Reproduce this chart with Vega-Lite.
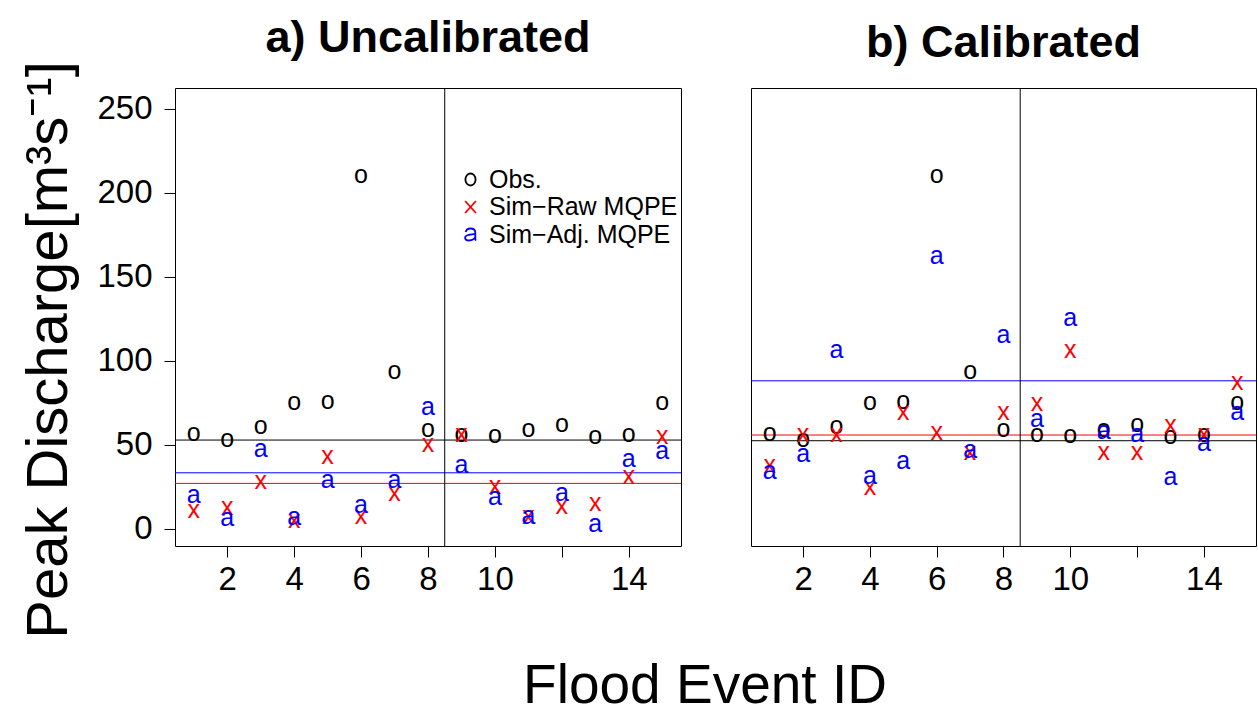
{
  "$schema": "https://vega.github.io/schema/vega-lite/v6.json",
  "background": "white",
  "padding": {"left": 19, "top": 15, "right": 0, "bottom": 0},
  "autosize": {"type": "pad"},
  "bounds": "flush",
  "spacing": 70,
  "config": {
    "font": "Liberation Sans",
    "view": {"stroke": "black", "strokeWidth": 1},
    "axis": {"grid": false, "domain": false, "tickColor": "black", "tickSize": 11, "tickWidth": 1, "labelColor": "black", "labelFont": "Liberation Sans", "labelFontSize": 33, "titleColor": "black", "titleFont": "Liberation Sans", "titleFontWeight": "normal"},
    "title": {"fontSize": 45, "fontWeight": "bold", "font": "Liberation Sans", "color": "black", "anchor": "middle", "baseline": "alphabetic", "frame": "group"}
  },
  "datasets": {
    "peaks": [
      {"panel": "a", "event": 1, "obs": 56.0, "raw": 10.1, "adj": 19.0},
      {"panel": "a", "event": 2, "obs": 52.8, "raw": 12.1, "adj": 5.2},
      {"panel": "a", "event": 3, "obs": 60.1, "raw": 27.4, "adj": 46.4},
      {"panel": "a", "event": 4, "obs": 74.4, "raw": 4.2, "adj": 6.2},
      {"panel": "a", "event": 5, "obs": 75.0, "raw": 42.5, "adj": 28.0},
      {"panel": "a", "event": 6, "obs": 210.0, "raw": 6.8, "adj": 13.1},
      {"panel": "a", "event": 7, "obs": 92.8, "raw": 20.5, "adj": 28.0},
      {"panel": "a", "event": 8, "obs": 58.2, "raw": 49.4, "adj": 71.7},
      {"panel": "a", "event": 9, "obs": 55.8, "raw": 55.8, "adj": 36.9},
      {"panel": "a", "event": 10, "obs": 55.2, "raw": 24.6, "adj": 18.1},
      {"panel": "a", "event": 11, "obs": 58.5, "raw": 6.8, "adj": 6.8},
      {"panel": "a", "event": 12, "obs": 61.3, "raw": 12.7, "adj": 20.5},
      {"panel": "a", "event": 13, "obs": 54.1, "raw": 14.7, "adj": 2.2},
      {"panel": "a", "event": 14, "obs": 55.8, "raw": 30.6, "adj": 40.9},
      {"panel": "a", "event": 15, "obs": 74.6, "raw": 54.4, "adj": 45.5},
      {"panel": "b", "event": 1, "obs": 56.0, "raw": 36.9, "adj": 33.3},
      {"panel": "b", "event": 2, "obs": 52.8, "raw": 55.8, "adj": 43.5},
      {"panel": "b", "event": 3, "obs": 60.1, "raw": 55.4, "adj": 105.4},
      {"panel": "b", "event": 4, "obs": 74.4, "raw": 24.0, "adj": 30.6},
      {"panel": "b", "event": 5, "obs": 75.0, "raw": 68.7, "adj": 39.3},
      {"panel": "b", "event": 6, "obs": 210.0, "raw": 56.8, "adj": 161.3},
      {"panel": "b", "event": 7, "obs": 92.8, "raw": 44.9, "adj": 46.2},
      {"panel": "b", "event": 8, "obs": 58.2, "raw": 68.7, "adj": 114.3},
      {"panel": "b", "event": 9, "obs": 55.8, "raw": 74.2, "adj": 64.3},
      {"panel": "b", "event": 10, "obs": 55.2, "raw": 105.8, "adj": 124.8},
      {"panel": "b", "event": 11, "obs": 58.5, "raw": 44.9, "adj": 57.2},
      {"panel": "b", "event": 12, "obs": 61.3, "raw": 44.9, "adj": 55.8},
      {"panel": "b", "event": 13, "obs": 54.1, "raw": 60.7, "adj": 30.0},
      {"panel": "b", "event": 14, "obs": 55.8, "raw": 55.8, "adj": 50.2},
      {"panel": "b", "event": 15, "obs": 74.6, "raw": 86.7, "adj": 68.7}
    ],
    "means": [
      {"panel": "a", "series": "obs", "value": 52.8},
      {"panel": "a", "series": "raw", "value": 27.0},
      {"panel": "a", "series": "adj", "value": 33.3},
      {"panel": "b", "series": "obs", "value": 52.4},
      {"panel": "b", "series": "raw", "value": 55.8},
      {"panel": "b", "series": "adj", "value": 88.1}
    ],
    "split": [{"event": 8.5}]
  },
  "resolve": {"legend": {"color": "independent"}},
  "hconcat": [
    {
      "width": 506,
      "height": 458,
      "title": {"text": "a) Uncalibrated", "offset": 0},
      "layer": [
        {
          "data": {"name": "means"},
          "transform": [{"filter": "datum.panel === 'a'"}],
          "mark": {"type": "rule", "strokeWidth": 1},
          "encoding": {
            "y": {"field": "value", "type": "quantitative", "scale": {"domain": [-10.3, 262.5], "nice": false, "zero": false},
              "axis": {"values": [0, 50, 100, 150, 200, 250], "labelPadding": 12, "labelOverlap": false, "labelFlush": false, "title": "Peak Discharge[m³s⁻¹]", "titleFontSize": 58, "titleX": -109, "titleY": 261.5, "titleBaseline": "alphabetic", "titleAlign": "center", "titleAngle": -90}},
            "stroke": {"field": "series", "type": "nominal", "scale": {"domain": ["obs", "raw", "adj"], "range": ["black", "#FF0000", "#0000FF"]}, "legend": null}
          }
        },
        {
          "data": {"name": "split"},
          "mark": {"type": "rule", "color": "black", "strokeWidth": 1},
          "encoding": {
            "x": {"field": "event", "type": "quantitative", "scale": {"domain": [0.44, 15.56], "nice": false, "zero": false},
              "axis": {"values": [2, 4, 6, 8, 10, 12, 14], "labelExpr": "datum.value === 12 ? '' : datum.label", "labelOverlap": false, "labelFlush": false, "labelPadding": 6, "title": "Flood Event ID", "titleFontSize": 55, "titleX": 529.5, "titleY": 156, "titleBaseline": "alphabetic", "titleAlign": "center"}}
          }
        },
        {
          "data": {"name": "peaks"},
          "transform": [{"filter": "datum.panel === 'a'"}, {"fold": ["obs", "raw", "adj"], "as": ["series", "value"]}, {"filter": "datum.series === 'obs'"}],
          "mark": {"type": "text", "text": "o", "fontSize": 25, "font": "Liberation Sans", "baseline": "alphabetic", "align": "center", "dy": 6.5},
          "encoding": {
            "x": {"field": "event", "type": "quantitative", "scale": {"domain": [0.44, 15.56], "nice": false, "zero": false},
              "axis": {"values": [2, 4, 6, 8, 10, 12, 14], "labelExpr": "datum.value === 12 ? '' : datum.label", "labelOverlap": false, "labelFlush": false, "labelPadding": 6, "title": "Flood Event ID", "titleFontSize": 55, "titleX": 529.5, "titleY": 156, "titleBaseline": "alphabetic", "titleAlign": "center"}},
            "y": {"field": "value", "type": "quantitative", "scale": {"domain": [-10.3, 262.5], "nice": false, "zero": false},
              "axis": {"values": [0, 50, 100, 150, 200, 250], "labelPadding": 12, "labelOverlap": false, "labelFlush": false, "title": "Peak Discharge[m³s⁻¹]", "titleFontSize": 58, "titleX": -109, "titleY": 261.5, "titleBaseline": "alphabetic", "titleAlign": "center", "titleAngle": -90}},
            "color": {"field": "series", "type": "nominal", "scale": {"domain": ["obs", "raw", "adj"], "range": ["black", "#FF0000", "#0000FF"]},
              "legend": {"title": null, "orient": "none", "legendX": 283, "legendY": 79, "padding": 0, "labelFontSize": 25, "labelFont": "Liberation Sans", "labelColor": "black", "labelOffset": 6, "labelLimit": 400, "rowPadding": 1.5, "symbolSize": 144, "symbolStrokeWidth": 1.8, "symbolFillColor": "transparent",
                "labelExpr": "datum.value === 'obs' ? 'Obs.' : datum.value === 'raw' ? 'Sim−Raw MQPE' : 'Sim−Adj. MQPE'",
                "encode": {"symbols": {"update": {
                  "shape": {"signal": "datum.value === 'obs' ? 'M-0.85,0A0.85,1 0 1,0 0.85,0A0.85,1 0 1,0 -0.85,0Z' : datum.value === 'raw' ? 'M-0.9,-1L0.9,1M0.9,-1L-0.9,1' : 'M-0.8,-0.4C-0.7,-0.9 -0.3,-1 0,-1C0.6,-1 0.8,-0.7 0.8,-0.3L0.8,0.65C0.8,0.85 0.85,0.95 0.95,1M0.8,-0.1C0.3,0.05 -0.9,-0.05 -0.9,0.5C-0.9,0.85 -0.6,1 -0.25,1C0.3,1 0.8,0.7 0.8,0.35'"},
                  "fill": {"value": "transparent"},
                  "fillOpacity": {"value": 0},
                  "stroke": {"scale": "color", "field": "value"},
                  "strokeOpacity": {"value": 1},
                  "strokeWidth": {"value": 1.8}
                }}}}}
          }
        },
        {
          "data": {"name": "peaks"},
          "transform": [{"filter": "datum.panel === 'a'"}, {"fold": ["obs", "raw", "adj"], "as": ["series", "value"]}, {"filter": "datum.series === 'raw'"}],
          "mark": {"type": "text", "text": "x", "fontSize": 25, "font": "Liberation Sans", "baseline": "alphabetic", "align": "center", "dy": 6.5},
          "encoding": {
            "x": {"field": "event", "type": "quantitative", "scale": {"domain": [0.44, 15.56], "nice": false, "zero": false}},
            "y": {"field": "value", "type": "quantitative", "scale": {"domain": [-10.3, 262.5], "nice": false, "zero": false}},
            "color": {"field": "series", "type": "nominal", "scale": {"domain": ["obs", "raw", "adj"], "range": ["black", "#FF0000", "#0000FF"]}}
          }
        },
        {
          "data": {"name": "peaks"},
          "transform": [{"filter": "datum.panel === 'a'"}, {"fold": ["obs", "raw", "adj"], "as": ["series", "value"]}, {"filter": "datum.series === 'adj'"}],
          "mark": {"type": "text", "text": "a", "fontSize": 25, "font": "Liberation Sans", "baseline": "alphabetic", "align": "center", "dy": 6.5},
          "encoding": {
            "x": {"field": "event", "type": "quantitative", "scale": {"domain": [0.44, 15.56], "nice": false, "zero": false}},
            "y": {"field": "value", "type": "quantitative", "scale": {"domain": [-10.3, 262.5], "nice": false, "zero": false}},
            "color": {"field": "series", "type": "nominal", "scale": {"domain": ["obs", "raw", "adj"], "range": ["black", "#FF0000", "#0000FF"]}}
          }
        }
      ]
    },
    {
      "width": 505,
      "height": 458,
      "title": {"text": "b) Calibrated", "offset": 21.5},
      "layer": [
        {
          "data": {"name": "means"},
          "transform": [{"filter": "datum.panel === 'b'"}],
          "mark": {"type": "rule", "strokeWidth": 1},
          "encoding": {
            "y": {"field": "value", "type": "quantitative", "scale": {"domain": [-10.3, 262.5], "nice": false, "zero": false}, "axis": null},
            "stroke": {"field": "series", "type": "nominal", "scale": {"domain": ["obs", "raw", "adj"], "range": ["black", "#FF0000", "#0000FF"]}, "legend": null}
          }
        },
        {
          "data": {"name": "split"},
          "mark": {"type": "rule", "color": "black", "strokeWidth": 1},
          "encoding": {
            "x": {"field": "event", "type": "quantitative", "scale": {"domain": [0.44, 15.56], "nice": false, "zero": false},
              "axis": {"values": [2, 4, 6, 8, 10, 12, 14], "labelExpr": "datum.value === 12 ? '' : datum.label", "labelOverlap": false, "labelFlush": false, "labelPadding": 6, "title": null}}
          }
        },
        {
          "data": {"name": "peaks"},
          "transform": [{"filter": "datum.panel === 'b'"}, {"fold": ["obs", "raw", "adj"], "as": ["series", "value"]}, {"filter": "datum.series === 'obs'"}],
          "mark": {"type": "text", "text": "o", "fontSize": 25, "font": "Liberation Sans", "baseline": "alphabetic", "align": "center", "dy": 6.5},
          "encoding": {
            "x": {"field": "event", "type": "quantitative", "scale": {"domain": [0.44, 15.56], "nice": false, "zero": false},
              "axis": {"values": [2, 4, 6, 8, 10, 12, 14], "labelExpr": "datum.value === 12 ? '' : datum.label", "labelOverlap": false, "labelFlush": false, "labelPadding": 6, "title": null}},
            "y": {"field": "value", "type": "quantitative", "scale": {"domain": [-10.3, 262.5], "nice": false, "zero": false}, "axis": null},
            "color": {"field": "series", "type": "nominal", "scale": {"domain": ["obs", "raw", "adj"], "range": ["black", "#FF0000", "#0000FF"]}, "legend": null}
          }
        },
        {
          "data": {"name": "peaks"},
          "transform": [{"filter": "datum.panel === 'b'"}, {"fold": ["obs", "raw", "adj"], "as": ["series", "value"]}, {"filter": "datum.series === 'raw'"}],
          "mark": {"type": "text", "text": "x", "fontSize": 25, "font": "Liberation Sans", "baseline": "alphabetic", "align": "center", "dy": 6.5},
          "encoding": {
            "x": {"field": "event", "type": "quantitative", "scale": {"domain": [0.44, 15.56], "nice": false, "zero": false}, "axis": {"values": [2, 4, 6, 8, 10, 12, 14], "labelExpr": "datum.value === 12 ? '' : datum.label", "labelOverlap": false, "labelFlush": false, "labelPadding": 6, "title": null}},
            "y": {"field": "value", "type": "quantitative", "scale": {"domain": [-10.3, 262.5], "nice": false, "zero": false}, "axis": null},
            "color": {"field": "series", "type": "nominal", "scale": {"domain": ["obs", "raw", "adj"], "range": ["black", "#FF0000", "#0000FF"]}, "legend": null}
          }
        },
        {
          "data": {"name": "peaks"},
          "transform": [{"filter": "datum.panel === 'b'"}, {"fold": ["obs", "raw", "adj"], "as": ["series", "value"]}, {"filter": "datum.series === 'adj'"}],
          "mark": {"type": "text", "text": "a", "fontSize": 25, "font": "Liberation Sans", "baseline": "alphabetic", "align": "center", "dy": 6.5},
          "encoding": {
            "x": {"field": "event", "type": "quantitative", "scale": {"domain": [0.44, 15.56], "nice": false, "zero": false}, "axis": {"values": [2, 4, 6, 8, 10, 12, 14], "labelExpr": "datum.value === 12 ? '' : datum.label", "labelOverlap": false, "labelFlush": false, "labelPadding": 6, "title": null}},
            "y": {"field": "value", "type": "quantitative", "scale": {"domain": [-10.3, 262.5], "nice": false, "zero": false}, "axis": null},
            "color": {"field": "series", "type": "nominal", "scale": {"domain": ["obs", "raw", "adj"], "range": ["black", "#FF0000", "#0000FF"]}, "legend": null}
          }
        }
      ]
    }
  ]
}
